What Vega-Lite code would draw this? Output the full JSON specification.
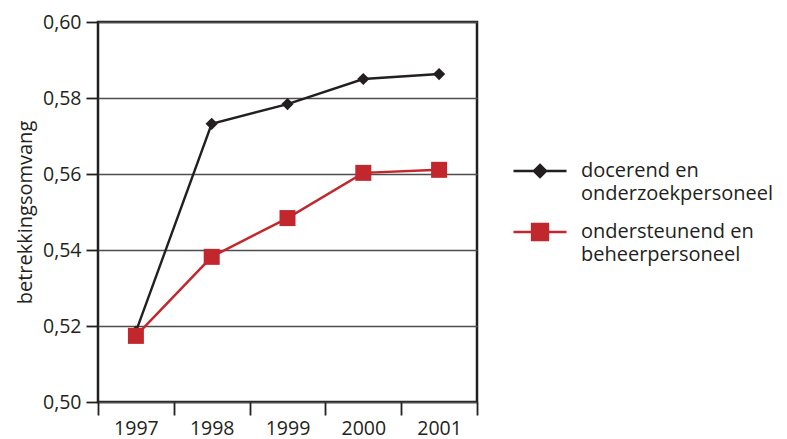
{
  "$schema": "https://vega.github.io/schema/vega-lite/v6.json",
  "width": 379,
  "height": 380,
  "autosize": {"type": "none"},
  "padding": {"left": 98, "top": 22, "right": 310, "bottom": 37},
  "background": "white",
  "config": {
    "font": "Open Sans",
    "view": {"stroke": "#231f20", "strokeWidth": 2.5}
  },
  "data": {
    "values": [
      {"jaar": 1997, "groep": "docerend en onderzoekpersoneel", "waarde": 0.5185},
      {"jaar": 1998, "groep": "docerend en onderzoekpersoneel", "waarde": 0.5732},
      {"jaar": 1999, "groep": "docerend en onderzoekpersoneel", "waarde": 0.5784},
      {"jaar": 2000, "groep": "docerend en onderzoekpersoneel", "waarde": 0.5850},
      {"jaar": 2001, "groep": "docerend en onderzoekpersoneel", "waarde": 0.5863},
      {"jaar": 1997, "groep": "ondersteunend en beheerpersoneel", "waarde": 0.5174},
      {"jaar": 1998, "groep": "ondersteunend en beheerpersoneel", "waarde": 0.5382},
      {"jaar": 1999, "groep": "ondersteunend en beheerpersoneel", "waarde": 0.5484},
      {"jaar": 2000, "groep": "ondersteunend en beheerpersoneel", "waarde": 0.5603},
      {"jaar": 2001, "groep": "ondersteunend en beheerpersoneel", "waarde": 0.5611}
    ]
  },
  "encoding": {
    "x": {
      "field": "jaar",
      "type": "quantitative",
      "scale": {"domain": [1996.5, 2001.5], "nice": false, "zero": false},
      "axis": {
        "title": null,
        "values": [1996.5, 1997.5, 1998.5, 1999.5, 2000.5, 2001.5],
        "labelExpr": "datum.value < 2001 ? toString(datum.value + 0.5) : ''",
        "labelOffset": 37.9,
        "labelFont": "Open Sans",
        "labelFontSize": 19.5,
        "labelColor": "#231f20",
        "labelPadding": 4,
        "tickSize": 13,
        "tickWidth": 1.8,
        "tickColor": "#231f20",
        "domain": false,
        "grid": false,
        "labelFlush": false,
        "labelOverlap": false
      }
    },
    "y": {
      "field": "waarde",
      "type": "quantitative",
      "scale": {"domain": [0.5, 0.6], "nice": false, "zero": false},
      "axis": {
        "title": "betrekkingsomvang",
        "titleFont": "Open Sans",
        "titleFontSize": 20,
        "titleFontWeight": "normal",
        "titleColor": "#231f20",
        "titlePadding": 7,
        "values": [0.5, 0.52, 0.54, 0.56, 0.58, 0.6],
        "labelExpr": "replace(format(datum.value, '.2f'), '.', ',')",
        "labelFont": "Open Sans",
        "labelFontSize": 19.5,
        "labelColor": "#231f20",
        "labelPadding": 5,
        "tickSize": 12,
        "tickWidth": 1.8,
        "tickColor": "#231f20",
        "domain": false,
        "grid": true,
        "gridColor": "#4d4d4d",
        "gridWidth": 1.4,
        "labelFlush": false,
        "labelOverlap": false
      }
    }
  },
  "layer": [
    {
      "mark": {"type": "line", "strokeWidth": 2.4},
      "encoding": {
        "color": {
          "field": "groep",
          "type": "nominal",
          "scale": {
            "domain": ["docerend en onderzoekpersoneel", "ondersteunend en beheerpersoneel"],
            "range": ["#231f20", "#c1272d"]
          },
          "legend": {
            "title": null,
            "orient": "none",
            "legendX": 414,
            "legendY": 121,
            "symbolSize": 2809,
            "symbolStrokeWidth": 2.4,
            "labelFont": "Open Sans",
            "labelFontSize": 20,
            "labelColor": "#231f20",
            "labelOffset": 13,
            "rowPadding": -8,
            "labelLimit": 400,
            "labelExpr": "split(replace(datum.label, ' en ', ' en|'), '|')",
            "encode": {
              "symbols": {
                "update": {
                  "shape": {"signal": "datum.value === 'docerend en onderzoekpersoneel' ? 'M-1,0H1M0,-0.23L0.23,0L0,0.23L-0.23,0Z' : 'M-1,0H1M-0.3,-0.3H0.3V0.3H-0.3Z'"},
                  "fill": {"signal": "datum.value === 'docerend en onderzoekpersoneel' ? '#231f20' : '#c1272d'"},
                  "stroke": {"signal": "datum.value === 'docerend en onderzoekpersoneel' ? '#231f20' : '#c1272d'"},
                  "strokeWidth": {"value": 2.4}
                }
              },
              "labels": {
                "update": {
                  "lineHeight": {"value": 23}
                }
              }
            }
          }
        }
      }
    },
    {
      "transform": [{"filter": "datum.groep === 'docerend en onderzoekpersoneel'"}],
      "mark": {"type": "point", "filled": true, "opacity": 1, "shape": "diamond", "size": 150, "color": "#231f20"}
    },
    {
      "transform": [{"filter": "datum.groep === 'ondersteunend en beheerpersoneel'"}],
      "mark": {"type": "point", "filled": true, "opacity": 1, "shape": "square", "size": 256, "color": "#c1272d"}
    }
  ]
}
